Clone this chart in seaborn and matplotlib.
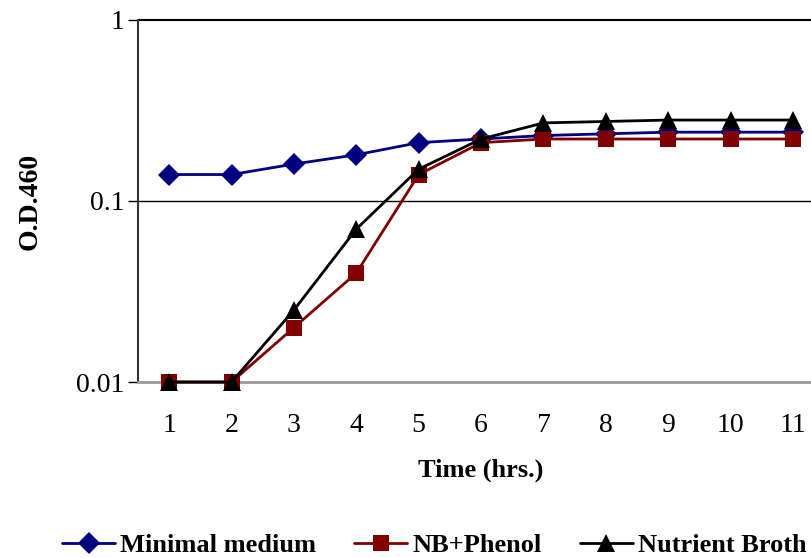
import pandas as pd
import matplotlib.pyplot as plt
import seaborn as sns

# growth curve data
hours = [1, 2, 3, 4, 5, 6, 7, 8, 9, 10, 11]
minimal_medium = [0.14, 0.14, 0.16, 0.18, 0.21, 0.22, 0.23, 0.235, 0.24, 0.24, 0.24]
nb_phenol = [0.01, 0.01, 0.02, 0.04, 0.14, 0.21, 0.22, 0.22, 0.22, 0.22, 0.22]
nutrient_broth = [0.01, 0.01, 0.025, 0.07, 0.15, 0.22, 0.27, 0.275, 0.28, 0.28, 0.28]
series_names = ['Minimal medium', 'NB+Phenol', 'Nutrient Broth']
colors = ['#000080', '#800000', '#000000']

df = pd.DataFrame({
    'Time': hours * 3,
    'OD': minimal_medium + nb_phenol + nutrient_broth,
    'Series': [s for s in series_names for _ in hours],
})

sns.set_style('white', {'text.color': 'black', 'xtick.color': 'black',
                        'ytick.color': 'black', 'axes.labelcolor': 'black'})
plt.rcParams['font.family'] = ['Liberation Serif', 'DejaVu Serif']

fig = plt.figure(figsize=(8.12, 5.58), dpi=100)
ax = fig.add_axes([0.17, 0.3154, 0.845, 0.6488])

sns.lineplot(data=df, x='Time', y='OD', hue='Series', style='Series',
             markers=['D', 's', '^'], dashes=False, palette=colors,
             markersize=11, linewidth=2, markeredgewidth=0, ax=ax)

# marker sizes per shape, and let markers on the axis show in full
msize = {'D': 11, 's': 11, '^': 12.5}
for ln in ax.lines:
    m = ln.get_marker()
    if m in msize:
        ln.set_markersize(msize[m])
        ln.set_clip_on(False)
        ln.set_zorder(3)

ax.set_yscale('log')
ax.set_ylim(0.01, 1)
ax.set_xlim(0.5, 11.5)
ax.set_xticks(hours)
ax.set_xticklabels([str(h) for h in hours])
ax.set_yticks([0.01, 0.1, 1])
ax.set_yticklabels(['0.01', '0.1', '1'])
ax.minorticks_off()
ax.axhline(0.1, color='black', lw=1, zorder=0)
ax.axhline(1, color='black', lw=1.5, zorder=0, clip_on=False)

for s in ['top', 'right']:
    ax.spines[s].set_visible(False)
ax.spines['left'].set_color('#333333')
ax.spines['left'].set_linewidth(1.5)
ax.spines['bottom'].set_color('#999999')
ax.spines['bottom'].set_linewidth(2)

ax.tick_params(axis='y', which='major', direction='out', length=7, width=1,
               labelsize=20, left=True, pad=3, colors='black')
ax.tick_params(axis='x', which='major', length=0, labelsize=20, pad=22,
               colors='black')

ax.set_xlabel('Time (hrs.)', fontsize=19, fontweight='bold', labelpad=15)
ax.set_ylabel('O.D.460', fontsize=20, fontweight='bold', labelpad=24)

handles, labels = ax.get_legend_handles_labels()
for h in handles:
    m = h.get_marker()
    if m in msize:
        h.set_markersize(msize[m])
ax.legend(handles, labels, loc='center', bbox_to_anchor=(0.535, 0.022),
          bbox_transform=fig.transFigure, ncol=3, frameon=False,
          prop={'size': 19, 'weight': 'bold'}, handlelength=2.0,
          handletextpad=0.2, columnspacing=1.45, borderaxespad=0)

fig.savefig('out.png', dpi=100)
